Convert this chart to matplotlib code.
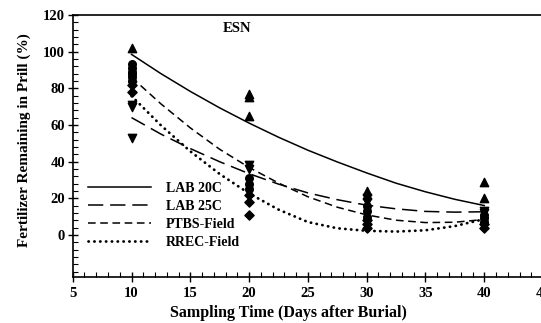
import matplotlib
matplotlib.use("Agg")
import matplotlib.pyplot as plt
from matplotlib.ticker import MultipleLocator, FixedLocator

plt.rcParams['font.family'] = ['Liberation Serif', 'DejaVu Serif']
plt.rcParams['font.weight'] = 'bold'

# ── Data ───────────────────────────────────────────────────────────────────
# fitted curves, sampled along sampling time
curve_x = [10, 12.5, 15, 17.5, 20, 22.5, 25, 27.5, 30, 32.5, 35, 37.5, 40]
lab20_fit = [98.5, 88.0, 78.3, 69.3, 61.0, 53.3, 46.2, 39.8, 33.8, 28.2, 23.5, 19.4, 16.0]
lab25_fit = [64.0, 55.0, 47.1, 39.9, 33.4, 27.7, 22.9, 19.2, 16.2, 14.2, 12.8, 12.4, 12.6]
ptbs_fit  = [86.0, 71.5, 58.4, 46.7, 36.8, 28.3, 20.8, 15.1, 10.9, 8.0, 6.7, 6.9, 8.4]
rrec_fit  = [75.8, 59.8, 45.6, 33.2, 22.6, 13.8, 7.0, 3.6, 2.2, 1.8, 2.5, 4.8, 8.6]

# observations
lab20_x = [10, 20, 20, 20, 30, 30, 40, 40]
lab20_y = [102, 77, 75, 65, 24, 22, 29, 20]
lab25_x = [10, 10, 10, 20, 20, 30, 30, 40, 40]
lab25_y = [53, 71, 70, 38, 36, 20, 18, 13, 12]
ptbs_x = [10, 10, 10, 10, 10, 10, 20, 20, 20, 30, 30, 30, 40, 40, 40]
ptbs_y = [93, 91, 89, 88, 86, 84, 31, 28, 25, 16, 13, 10, 11, 9, 7]
rrec_x = [10, 10, 20, 20, 20, 30, 30, 30, 40, 40]
rrec_y = [82, 78, 22, 18, 11, 8, 6, 4, 6, 4]

# ── Plot ──────────────────────────────────────────────────────────────────
fig = plt.figure(figsize=(5.41, 3.23), dpi=100)
ax = fig.add_axes([0.1344, 0.1424, 0.8694, 0.8112])

ax.plot(curve_x, lab20_fit, color="black", lw=1.1, ls="-", label="LAB 20C")
ax.plot(curve_x, lab25_fit, color="black", lw=1.1, ls=(0, (10, 4.5)), label="LAB 25C")
ax.plot(curve_x, ptbs_fit, color="black", lw=1.1, ls=(0, (5, 3)), label="PTBS-Field")
ax.plot(curve_x, rrec_fit, color="black", lw=2.0, ls=(0, (0.1, 2.0)),
        dash_capstyle="round", label="RREC-Field")

ax.scatter(lab20_x, lab20_y, marker="^", s=36, color="black", zorder=3)
ax.scatter(lab25_x, lab25_y, marker="v", s=36, color="black", zorder=3)
ax.scatter(ptbs_x, ptbs_y, marker="o", s=30, color="black", zorder=3)
ax.scatter(rrec_x, rrec_y, marker="D", s=22, color="black", zorder=3)

ax.set_xlim(5, 45)
ax.set_ylim(-23, 120)
ax.xaxis.set_major_locator(MultipleLocator(5))
ax.xaxis.set_minor_locator(MultipleLocator(1))
ax.yaxis.set_major_locator(FixedLocator([0, 20, 40, 60, 80, 100, 120]))
ax.yaxis.set_minor_locator(MultipleLocator(4))

ax.tick_params(which="major", direction="inout", length=7, width=1.0, labelsize=10.5)
ax.tick_params(which="minor", direction="in", length=3.5, width=0.8)
ax.tick_params(axis="y", pad=2)
for lab in ax.get_xticklabels() + ax.get_yticklabels():
    lab.set_fontweight("bold")
for sp in ax.spines.values():
    sp.set_linewidth(1.2)

ax.set_xlabel("Sampling Time (Days after Burial)", fontsize=11.5, fontweight="bold")
ax.set_ylabel("Fertilizer Remaining in Prill (%)", fontsize=11, fontweight="bold")
ax.xaxis.set_label_coords(0.4577, -0.105)
ax.yaxis.set_label_coords(-0.089, 0.523)

ax.text(19, 112.5, "ESN", ha="center", va="center", fontsize=10.5, fontweight="bold")

ax.legend(loc="upper left", bbox_to_anchor=(0.1627, 0.437), bbox_transform=fig.transFigure,
          frameon=False, handlelength=4.5, handletextpad=1.1,
          labelspacing=0.36, borderpad=0, borderaxespad=0,
          prop={"weight": "bold", "size": 10})

fig.savefig("out.png", dpi=100)
